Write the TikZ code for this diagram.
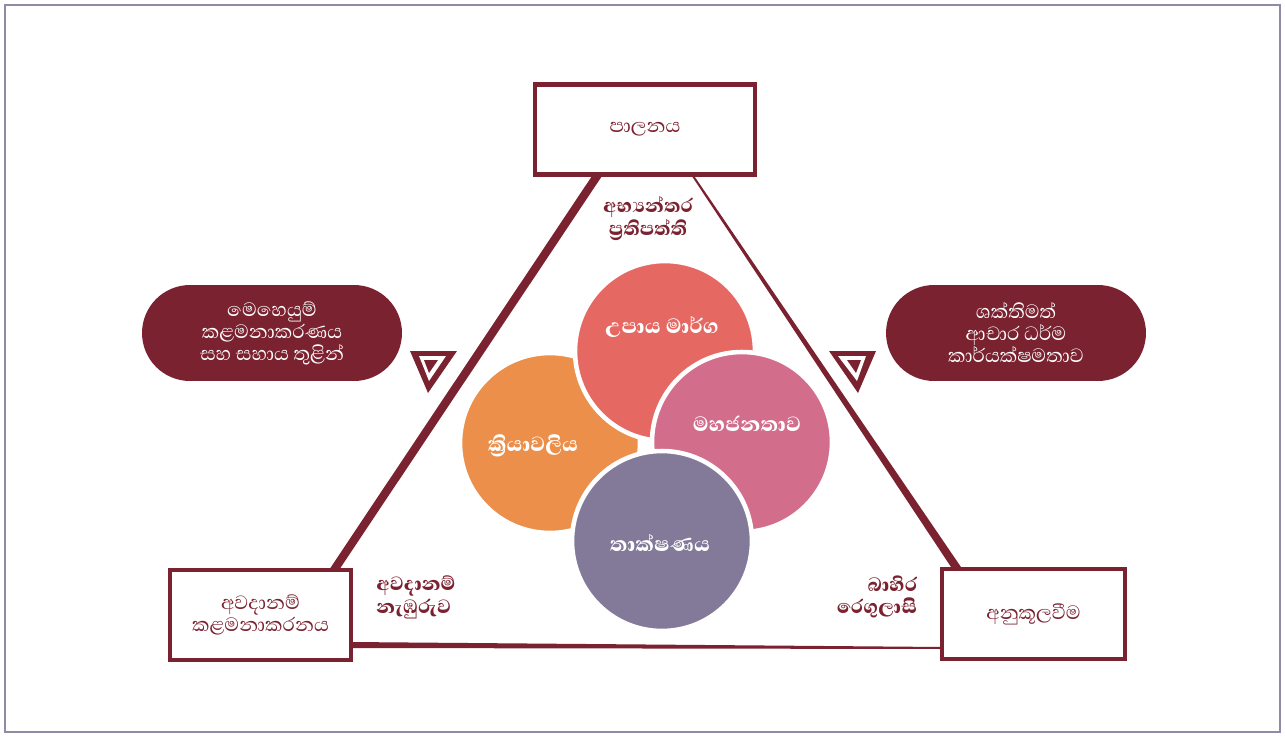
\documentclass[tikz,border=0pt]{standalone}
\usepackage{fontspec}
\setmainfont{Abhaya Libre}[Script=Sinhala, BoldFont={Abhaya Libre ExtraBold}]
\usetikzlibrary{positioning,calc}

\definecolor{maroon}{HTML}{7B2230}
\definecolor{framegray}{HTML}{8F8AA6}
\definecolor{strategyred}{HTML}{E66862}
\definecolor{processorange}{HTML}{EB8F4B}
\definecolor{publicpink}{HTML}{D26D8C}
\definecolor{techpurple}{HTML}{837A9A}

\tikzset{
  framebox/.style={draw=maroon, line width=2.3pt, fill=white, text=maroon, align=center,
    minimum height=1.8cm, font=\fontsize{14}{12.5}\selectfont},
  pill/.style={fill=maroon, text=white, align=center, rounded corners=0.96cm,
    minimum width=5.2cm, minimum height=1.92cm, font=\fontsize{14}{12.5}\selectfont},
  bubble/.style={circle, minimum size=3.6cm, draw=white, line width=2.6pt},
  bubbletext/.style={text=white, font=\bfseries\fontsize{15}{16}\selectfont},
  sidelabel/.style={text=maroon, font=\bfseries\fontsize{14}{13}\selectfont},
}

\begin{document}
\begin{tikzpicture}[x=0.02cm, y=-0.02cm]
\useasboundingbox (0,0) rectangle (1285,737);
\draw [framegray, line width=0.8pt] (5,5) rectangle (1280,732);

% corners of the triangle
\coordinate (lt) at (597,176);
\coordinate (lb) at (334,570);
\coordinate (rt) at (693,176);
\coordinate (rb) at (958,570);
\coordinate (bl) at (350,645);
\coordinate (br) at (943,648);

\fill [maroon] ($(lt)+(-5,0)$) -- ($(lt)+(5,0)$) -- ($(lb)+(5,0)$) -- ($(lb)+(-5,0)$) -- cycle;
\fill [maroon] ($(rt)+(-1.2,0)$) -- ($(rt)+(1.2,0)$) -- ($(rb)+(5,0)$) -- ($(rb)+(-5,0)$) -- cycle;
\fill [maroon] ($(bl)+(0,-3)$) -- ($(br)+(0,-1)$) -- ($(br)+(0,1)$) -- ($(bl)+(0,3)$) -- cycle;

% boxes at the corners
\node [framebox, minimum width=4.4cm] (control) at (645,129.5) {පාලනය};
\node [framebox, minimum width=3.62cm] (riskmgmt) at (260.5,615) {අවදානම්\\කළමනාකරනය};
\node [framebox, minimum width=3.66cm] (comply) at (1033.5,614) {අනුකූලවීම};

% pills
\node [pill] (opsmgmt) at (272,333) {මෙහෙයුම්\\කළමනාකරණය\\සහ සහාය තුළින්};
\node [pill] (ethics) at (1016,333) {ශක්තිමත්\\ආචාර ධර්ම\\කාර්යක්ෂමතාව};

% small markers
\fill [maroon] (410,351) -- (457,351) -- (428,393) -- cycle;
\fill [white] (419,356) -- (446,356) -- (429,381) -- cycle;
\fill [maroon] (424,360) -- (438,360) -- (429,373) -- cycle;
\fill [maroon] (829,351) -- (876,351) -- (858,393) -- cycle;
\fill [white] (838,356) -- (866,356) -- (857,381) -- cycle;
\fill [maroon] (847,360) -- (861,360) -- (856,373) -- cycle;

% labels along the sides
\node [sidelabel, align=center] (policy) at (648,219) {අභ්‍යන්තර\\ප්‍රතිපත්ති};
\node [sidelabel, align=left] (appetite) at (416,597) {අවදානම්\\නැඹුරුව};
\node [sidelabel, align=right] (rules) at (877,597) {බාහිර\\රෙගුලාසි};

% the four circles
\node [bubble, fill=processorange] (process) at (550,443) {};
\node [bubble, fill=strategyred] (strategy) at (665,351) {};
\node [bubble, fill=publicpink] (public) at (742,442) {};
\node [bubble, fill=techpurple] (tech) at (662,541) {};

\node [bubbletext] at (533,446) {ක්‍රියාවලිය};
\node [bubbletext] at (662,327) {උපාය මාර්ග};
\node [bubbletext] at (747,424) {මහජනතාව};
\node [bubbletext] at (660,543) {තාක්ෂණය};
\end{tikzpicture}
\end{document}
